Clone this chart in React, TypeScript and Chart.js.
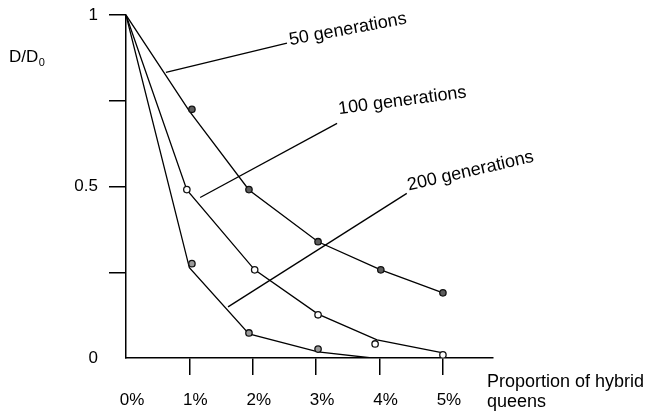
import React, { useEffect, useRef } from "react";
import { Chart, registerables } from "chart.js";

Chart.register(...registerables);

// Ticks
const xTickValues = [0, 1, 2, 3, 4, 5];
const xTickLabels = ["0%", "1%", "2%", "3%", "4%", "5%"];
const yTickValues = [0, 0.25, 0.5, 0.75, 1];
const yTickLabels = ["0", "", "0.5", "", "1"];

// Drawn curves (x = % hybrid queens, y = D/D0)
const line50X = [0, 1, 1.94, 3.03, 4.02, 5];
const line50Y = [1, 0.72, 0.49, 0.339, 0.257, 0.19];
const line100X = [0, 0.96, 2.03, 3.03, 3.96, 5];
const line100Y = [1, 0.49, 0.257, 0.128, 0.053, 0.015];
const line200X = [0, 1, 1.94, 3.03, 3.88];
const line200Y = [1, 0.263, 0.07, 0.018, 0];

// Plotted points
const pts50X = [1.04, 1.94, 3.03, 4.02, 5];
const pts50Y = [0.725, 0.491, 0.339, 0.257, 0.19];
const pts100X = [0.96, 2.03, 3.03, 3.93, 5];
const pts100Y = [0.491, 0.257, 0.126, 0.041, 0.009];
const pts200X = [1.04, 1.94, 3.03];
const pts200Y = [0.275, 0.073, 0.026];

// Series labels with leader lines (data coordinates)
const seriesNames = ["50 generations", "100 generations", "200 generations"];
const leaderFrom = [[0.63, 0.833], [1.17, 0.468], [1.61, 0.149]];
const leaderTo = [[2.54, 0.918], [3.33, 0.684], [4.43, 0.48]];
const labelAt = [[2.59, 0.912], [3.36, 0.711], [4.46, 0.488]];
const labelAngle = [-10.5, -7.5, -13];

const FONT = "'Liberation Sans', Arial, Helvetica, sans-serif";

const toXY = (xs: number[], ys: number[]) => xs.map((x, i) => ({ x, y: ys[i] }));

const annotations = {
  id: "annotations",
  afterDatasetsDraw(chart: any) {
    const { ctx, scales } = chart;
    const sx = scales.x;
    const sy = scales.y;
    ctx.save();
    ctx.strokeStyle = "#000";
    ctx.lineWidth = 1.3;
    for (let i = 0; i < seriesNames.length; i++) {
      ctx.beginPath();
      ctx.moveTo(sx.getPixelForValue(leaderFrom[i][0]), sy.getPixelForValue(leaderFrom[i][1]));
      ctx.lineTo(sx.getPixelForValue(leaderTo[i][0]), sy.getPixelForValue(leaderTo[i][1]));
      ctx.stroke();
      ctx.save();
      ctx.translate(sx.getPixelForValue(labelAt[i][0]), sy.getPixelForValue(labelAt[i][1]));
      ctx.rotate((labelAngle[i] * Math.PI) / 180);
      ctx.fillStyle = "#000";
      ctx.font = `18px ${FONT}`;
      ctx.textAlign = "left";
      ctx.textBaseline = "alphabetic";
      ctx.fillText(seriesNames[i], 0, 0);
      ctx.restore();
    }
    // axis titles
    ctx.fillStyle = "#000";
    ctx.textAlign = "left";
    ctx.textBaseline = "alphabetic";
    ctx.font = `18px ${FONT}`;
    ctx.fillText("Proportion of hybrid", 487, 387);
    ctx.fillText("queens", 487, 407);
    ctx.font = `17px ${FONT}`;
    ctx.fillText("D/D", 9, 62);
    const w = ctx.measureText("D/D").width;
    ctx.font = `11px ${FONT}`;
    ctx.fillText("0", 9 + w + 0.5, 66);
    ctx.restore();
  },
};

export default function App() {
  const ref = useRef<HTMLCanvasElement | null>(null);
  useEffect(() => {
    if (!ref.current) return;
    const lineStyle = {
      type: "line" as const,
      borderColor: "#000",
      borderWidth: 1.3,
      pointRadius: 0,
      tension: 0,
      fill: false,
      order: 2,
    };
    const ptStyle = {
      type: "scatter" as const,
      showLine: false,
      pointRadius: 3.2,
      pointBorderWidth: 1.3,
      pointBorderColor: "#111",
      borderColor: "#111",
      order: 0,
    };
    const chart = new Chart(ref.current, {
      type: "line",
      data: {
        datasets: [
          { ...lineStyle, label: "50", data: toXY(line50X, line50Y) },
          { ...lineStyle, label: "100", data: toXY(line100X, line100Y) },
          { ...lineStyle, label: "200", data: toXY(line200X, line200Y) },
          { ...ptStyle, label: "p50", data: toXY(pts50X, pts50Y), pointBackgroundColor: "#5c5c5c", backgroundColor: "#5c5c5c" },
          { ...ptStyle, label: "p100", data: toXY(pts100X, pts100Y), pointBackgroundColor: "#ffffff", backgroundColor: "#ffffff" },
          { ...ptStyle, label: "p200", data: toXY(pts200X, pts200Y), pointBackgroundColor: "#9a9a9a", backgroundColor: "#9a9a9a" },
        ] as any,
      },
      options: {
        responsive: false,
        animation: false,
        events: [],
        layout: { padding: { top: 15, right: 153, left: 0, bottom: 0 } },
        plugins: { legend: { display: false }, tooltip: { enabled: false } },
        scales: {
          x: {
            type: "linear",
            min: 0,
            max: 5.79,
            afterBuildTicks: (s: any) => {
              s.ticks = xTickValues.map((v) => ({ value: v }));
            },
            afterFit: (s: any) => {
              s.height = 54;
              s.paddingLeft = 0;
              s.paddingRight = 0;
            },
            border: { display: true, color: "#000", width: 1.5 },
            grid: {
              drawOnChartArea: false,
              drawTicks: true,
              tickLength: 17,
              lineWidth: 1.5,
              color: (c: any) => (c.tick && c.tick.value === 0 ? "rgba(0,0,0,0)" : "#000"),
            },
            ticks: {
              color: "#000",
              font: { family: FONT, size: 17 },
              padding: 15,
              labelOffset: 6,
              maxRotation: 0,
              autoSkip: false,
              callback: (v: any) => {
                const i = xTickValues.indexOf(Number(v));
                return i >= 0 ? xTickLabels[i] : "";
              },
            },
          },
          y: {
            type: "linear",
            min: 0,
            max: 1,
            afterBuildTicks: (s: any) => {
              s.ticks = yTickValues.map((v) => ({ value: v }));
            },
            afterFit: (s: any) => {
              s.width = 126;
              s.paddingTop = 0;
              s.paddingBottom = 0;
            },
            border: { display: true, color: "#000", width: 1.5 },
            grid: {
              drawOnChartArea: false,
              drawTicks: true,
              tickLength: 17,
              lineWidth: 1.5,
              color: (c: any) => (c.tick && c.tick.value === 0 ? "rgba(0,0,0,0)" : "#000"),
            },
            ticks: {
              color: "#000",
              font: { family: FONT, size: 17 },
              padding: 11,
              autoSkip: false,
              callback: (v: any) => {
                const i = yTickValues.indexOf(Number(v));
                return i >= 0 ? yTickLabels[i] : "";
              },
            },
          },
        },
      },
      plugins: [annotations],
    });
    return () => chart.destroy();
  }, []);
  return (
    <div style={{ position: "absolute", left: 0, top: 0, width: 646, height: 412, background: "#fff" }}>
      <canvas ref={ref} width={646} height={412} style={{ display: "block" }} />
    </div>
  );
}
